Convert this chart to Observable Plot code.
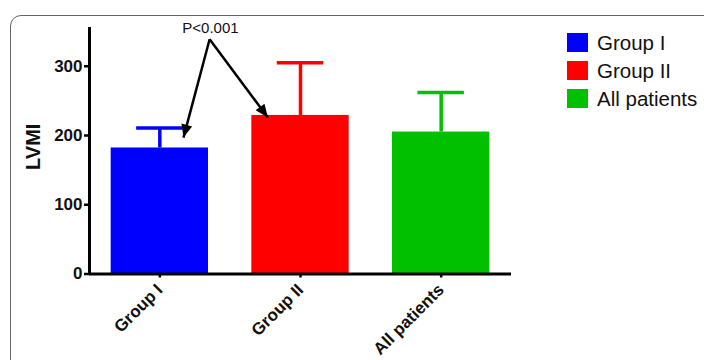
<!DOCTYPE html>
<html>
<head>
<meta charset="utf-8">
<script src="https://cdn.jsdelivr.net/npm/d3@7"></script>
<script src="https://cdn.jsdelivr.net/npm/@observablehq/plot@0.6"></script>
<style>
  html, body { margin: 0; padding: 0; background: #fff; }
  body { width: 704px; height: 360px; position: relative; overflow: hidden; font-family: "Liberation Sans", Arial, sans-serif; }
  #frame { position: absolute; left: 10px; top: 15px; width: 760px; height: 400px; border: 1.5px solid #666; border-radius: 11px; box-sizing: border-box; }
  #chart { position: absolute; left: 0; top: 0; }
  #legend { position: absolute; left: 567px; top: 28.5px; }
  .row { display: flex; align-items: center; height: 28px; }
  .sw { width: 21px; height: 19px; margin-right: 9px; flex: none; }
  .lab { font-size: 20.5px; color: #111; white-space: nowrap; line-height: 19px; }
</style>
</head>
<body>
<div id="frame"></div>
<div id="chart"></div>
<div id="legend"></div>
<script>
const categories = ["Group I", "Group II", "All patients"];
const means = [182, 229, 205];
const sds = [29, 76, 57];
const colors = ["#0000ff", "#ff0000", "#00c000"];
const yTicks = [0, 100, 200, 300];
const pLabel = "P<0.001";
const pLabelPos = [0.36, 348];
const arrowFrom = [0.354, 339];
const arrowTips = [[0.168, 197], [0.768, 226]];

const bars = categories.map((c, i) => ({i, cat: c, mean: means[i], top: means[i] + sds[i], color: colors[i]}));
const arrows = arrowTips.map(([x, y]) => ({x1: arrowFrom[0], y1: arrowFrom[1], x2: x, y2: y}));

const half = 0.346;
const cap = 0.165;

const base = {
  width: 704,
  height: 360,
  marginLeft: 89,
  marginRight: 193,
  marginTop: 27,
  marginBottom: 86.5,
  style: {fontFamily: "'Liberation Sans', Arial, sans-serif", background: "transparent", overflow: "visible"},
  x: {type: "linear", domain: [-0.5, 2.5]},
  y: {domain: [0, 356]}
};

// first pass: get the scales to orient the filled arrowheads in screen space
const probe = Plot.plot({...base, marks: [Plot.ruleY([0])]});
const sx = probe.scale("x"), sy = probe.scale("y");
arrows.forEach(a => {
  const dx = sx.apply(a.x2) - sx.apply(a.x1);
  const dy = sy.apply(a.y2) - sy.apply(a.y1);
  a.angle = Math.atan2(dx, -dy) * 180 / Math.PI;
});

const head = {
  draw(context, l) {
    const h = 13, w = 5.5;
    context.moveTo(0, -l);
    context.lineTo(-w, -l + h);
    context.lineTo(w, -l + h);
    context.closePath();
  }
};

const plot = Plot.plot({
  ...base,
  marks: [
    Plot.rectY(bars, {x1: d => d.i - half, x2: d => d.i + half, y1: 0, y2: "mean", fill: "color"}),
    Plot.ruleX(bars, {x: "i", y1: "mean", y2: "top", stroke: "color", strokeWidth: 3.5}),
    Plot.ruleY(bars, {y: "top", x1: d => d.i - cap, x2: d => d.i + cap, stroke: "color", strokeWidth: 3.5}),
    Plot.ruleX([-0.5], {y1: 0, y2: 356, stroke: "#000", strokeWidth: 3}),
    Plot.ruleY([0], {x1: -0.5, x2: 2.5, stroke: "#000", strokeWidth: 3}),
    Plot.axisY({ticks: yTicks, tickSize: 5, tickPadding: 2, fontSize: 17, fontWeight: "bold", fill: "#111", stroke: "#000", strokeWidth: 2.5, label: null}),
    Plot.text(["LVMI"], {frameAnchor: "left", textAnchor: "middle", lineAnchor: "middle", dx: -55.5, dy: -4, rotate: -90, fontSize: 20, fontWeight: "bold", fill: "#111"}),
    Plot.axisX({ticks: [0, 1, 2], tickFormat: i => categories[i], tickRotate: -45, tickSize: 4, tickPadding: 9, fontSize: 17, fontWeight: "bold", fill: "#111", stroke: "#000", strokeWidth: 2.5, label: null}),
    Plot.link(arrows, {x1: "x1", y1: "y1", x2: "x2", y2: "y2", stroke: "#000", strokeWidth: 2.5}),
    Plot.vector(arrows, {x: "x2", y: "y2", rotate: "angle", length: 14, anchor: "end", shape: head, fill: "#000", stroke: "none"}),
    Plot.text([pLabel], {x: pLabelPos[0], y: pLabelPos[1], lineAnchor: "bottom", fontSize: 15, fill: "#111"})
  ]
});
document.getElementById("chart").appendChild(plot);

const legend = document.getElementById("legend");
categories.forEach((c, i) => {
  const row = document.createElement("div");
  row.className = "row";
  const sw = document.createElement("div");
  sw.className = "sw";
  sw.style.background = colors[i];
  const lab = document.createElement("div");
  lab.className = "lab";
  lab.textContent = c;
  row.appendChild(sw);
  row.appendChild(lab);
  legend.appendChild(row);
});
</script>
</body>
</html>
